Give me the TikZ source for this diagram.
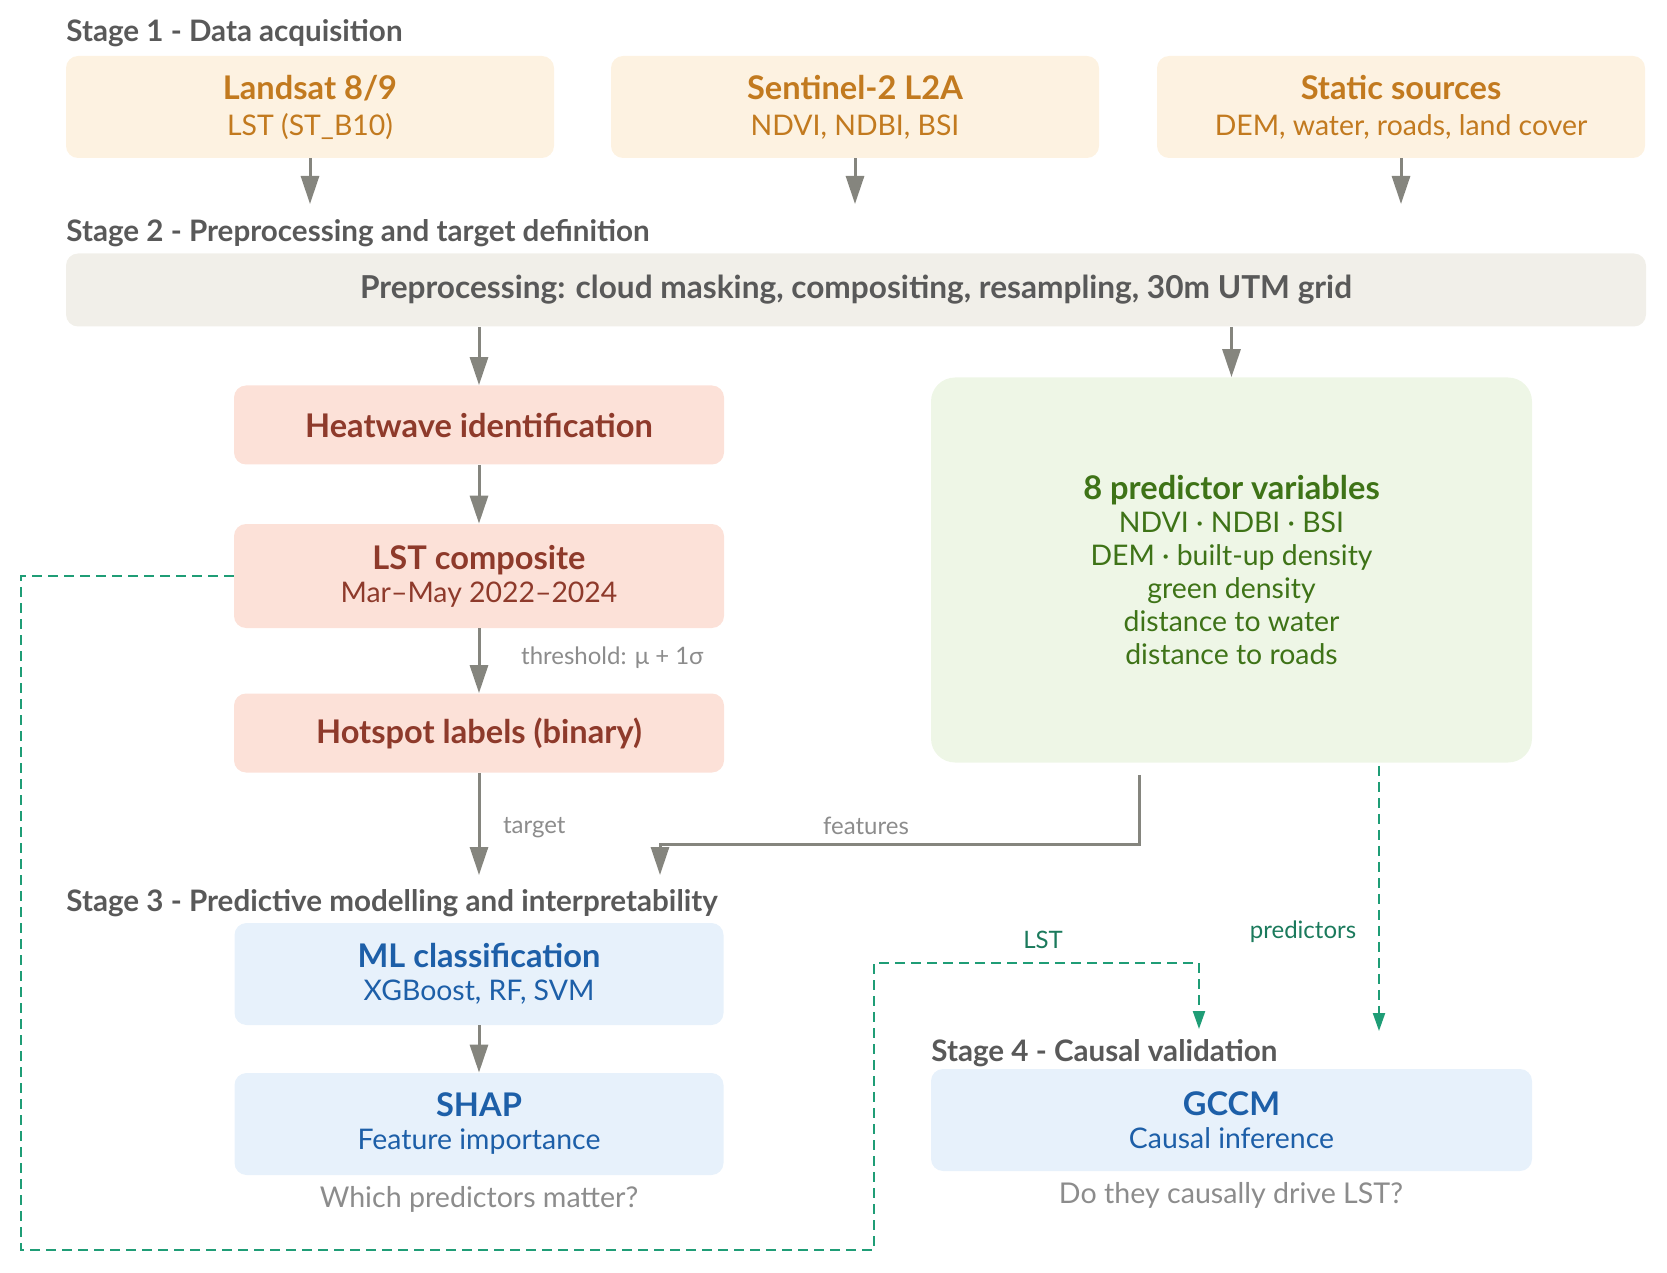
\documentclass[tikz,border=0pt]{standalone}
\usepackage{fontspec}
\setmainfont{Lato}
\usetikzlibrary{arrows.meta}
\definecolor{stagetext}{HTML}{595959}
\definecolor{arrgray}{HTML}{85857E}
\definecolor{srcfill}{HTML}{FDF2E1}
\definecolor{srctext}{HTML}{C27A1F}
\definecolor{prepfill}{HTML}{F1EFE9}
\definecolor{heatfill}{HTML}{FCE1D8}
\definecolor{heattext}{HTML}{8E3A2B}
\definecolor{predfill}{HTML}{EEF6E6}
\definecolor{predtext}{HTML}{3E7317}
\definecolor{modfill}{HTML}{E7F1FB}
\definecolor{modtext}{HTML}{1D5FA8}
\definecolor{causal}{HTML}{1F9D76}
\definecolor{causaltext}{HTML}{1B7A5C}
\definecolor{notetext}{HTML}{8C8C8C}

\begin{document}
\begin{tikzpicture}[x=0.5pt,y=-0.5pt,
  stage/.style={anchor=west,inner sep=0pt,text=stagetext,font=\fontsize{14.8}{17}\selectfont\bfseries},
  box/.style={rounded corners=6pt,inner sep=0pt,align=center,font=\fontsize{14.2}{16.5}\selectfont},
  srcbox/.style={box,fill=srcfill,text=srctext,minimum width=244pt,minimum height=51pt},
  heatbox/.style={box,fill=heatfill,text=heattext,minimum width=245pt},
  modbox/.style={box,fill=modfill,text=modtext,minimum height=51pt},
  arr/.style={draw=arrgray,line width=1.5pt,-{Triangle[length=14pt,width=9pt]}},
  causalarr/.style={draw=causal,line width=1.1pt,dash pattern=on 5pt off 3pt,-{Triangle[length=9pt,width=6pt]}},
  note/.style={text=notetext,font=\fontsize{12}{14}\selectfont}]
  \useasboundingbox (0,0) rectangle (1667,1273);

  % stage 1
  \node[stage] (s1) at (66,33) {Stage 1 - Data acquisition};
  \node[srcbox] (landsat) at (310,107) {{\fontsize{16.3}{18.5}\selectfont\bfseries Landsat 8/9}\\[1.5pt]LST (ST\_B10)};
  \node[srcbox] (sentinel) at (855,107) {{\fontsize{16.3}{18.5}\selectfont\bfseries Sentinel-2 L2A}\\[1.5pt]NDVI, NDBI, BSI};
  \node[srcbox] (static) at (1401,107) {{\fontsize{16.3}{18.5}\selectfont\bfseries Static sources}\\[1.5pt]DEM, water, roads, land cover};
  \coordinate (a1) at (310,204);
  \coordinate (a2) at (855,204);
  \coordinate (a3) at (1401,204);
  \draw[arr] (landsat) -- (a1);
  \draw[arr] (sentinel) -- (a2);
  \draw[arr] (static) -- (a3);

  % stage 2
  \node[stage] (s2) at (66,233) {Stage 2 - Preprocessing and target definition};
  \node[box,fill=prepfill,text=stagetext,minimum width=790pt,minimum height=36.5pt,font=\fontsize{15.8}{18}\selectfont\bfseries]
    (prep) at (856,290) {Preprocessing: cloud masking, compositing, resampling, 30m UTM grid};
  \node[heatbox,minimum height=39.5pt,font=\fontsize{16.3}{18.5}\selectfont\bfseries] (heat) at (479,425) {Heatwave identification};
  \node[heatbox,minimum height=52pt] (lstc) at (479,576) {{\fontsize{16.3}{18.5}\selectfont\bfseries LST composite}\\Mar–May 2022–2024};
  \node[heatbox,minimum height=39.5pt,font=\fontsize{16.3}{18.5}\selectfont\bfseries] (hot) at (479,733) {Hotspot labels (binary)};
  \node[box,fill=predfill,text=predtext,rounded corners=12pt,minimum width=300.5pt,minimum height=192.5pt]
    (pred) at (1231.5,570) {{\fontsize{16.3}{18.5}\selectfont\bfseries 8 predictor variables}\\NDVI · NDBI · BSI\\DEM · built-up density\\green density\\distance to water\\distance to roads};
  \draw[arr] (prep.south -| heat.north) -- (heat.north);
  \draw[arr] (prep.south -| pred.north) -- (pred.north);
  \draw[arr] (heat) -- (lstc);
  \draw[arr] (lstc) -- (hot) node[note,midway,anchor=west,xshift=17pt,yshift=1.5pt] {threshold: μ + 1σ};

  % stage 3
  \node[stage] (s3) at (66,903) {Stage 3 - Predictive modelling and interpretability};
  \coordinate (tgt) at (479,875);
  \coordinate (feat) at (660,875);
  \draw[arr] (hot) -- (tgt);
  \node[note,anchor=west] (tgtlbl) at (496,828) {target};
  \draw[arr] ([xshift=-46pt,yshift=-6pt]pred.south) -- ++(0,70) -| (feat);
  \node[note] (featlbl) at (866,826) {features};
  \node[modbox,minimum width=244.5pt] (ml) at (479,974) {{\fontsize{16.3}{18.5}\selectfont\bfseries ML classification}\\XGBoost, RF, SVM};
  \node[modbox,minimum width=244.5pt] (shap) at (479,1124) {{\fontsize{16.3}{18.5}\selectfont\bfseries SHAP}\\Feature importance};
  \draw[arr] (ml) -- (shap);
  \node[note,font=\fontsize{14.3}{16}\selectfont] (q3) at (479,1199) {Which predictors matter?};

  % stage 4
  \node[stage] (s4) at (931,1053) {Stage 4 - Causal validation};
  \node[modbox,minimum width=300.5pt] (gccm) at (1231.5,1120) {{\fontsize{16.3}{18.5}\selectfont\bfseries GCCM}\\Causal inference};
  \node[note,font=\fontsize{14.3}{16}\selectfont] (q4) at (1231,1195) {Do they causally drive LST?};
  \coordinate (lst4) at (1199,1029);
  \coordinate (pr4) at (1379,1031);
  \draw[causalarr] (lstc.west) -- (21,576) |- (874,1250) -- (874,963) -| (lst4);
  \node[text=causaltext,font=\fontsize{12}{14}\selectfont] (lstlbl) at (1043,940) {LST};
  \draw[causalarr] ([xshift=73.75pt,yshift=-1.5pt]pred.south) -- (pr4);
  \node[text=causaltext,font=\fontsize{12}{14}\selectfont] (prlbl) at (1303,932) {predictors};
\end{tikzpicture}
\end{document}
